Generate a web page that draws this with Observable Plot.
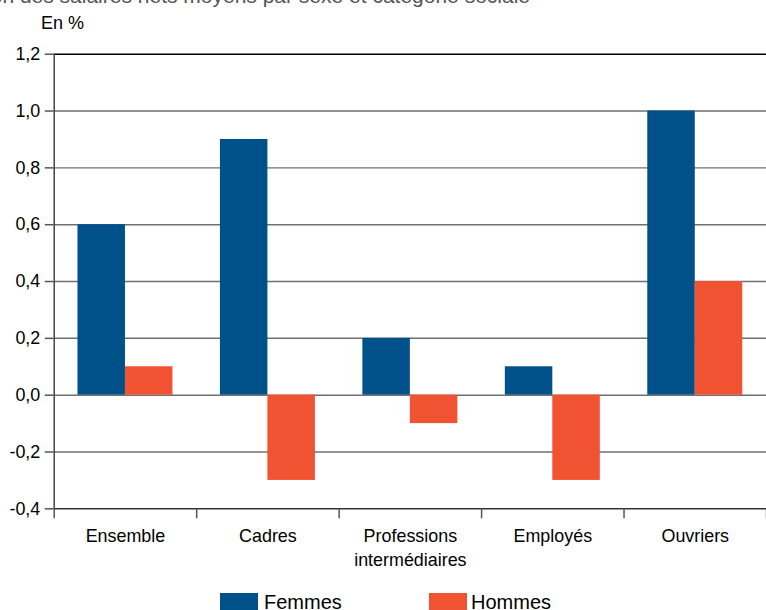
<!DOCTYPE html>
<html>
<head>
<meta charset="utf-8">
<script src="https://cdn.jsdelivr.net/npm/d3@7"></script>
<script src="https://cdn.jsdelivr.net/npm/@observablehq/plot@0.6"></script>
<style>
  html, body { margin: 0; padding: 0; background: #fff; }
  body { width: 766px; height: 610px; overflow: hidden; position: relative;
         font-family: "Liberation Sans", Arial, Helvetica, sans-serif; color: #000; }
  #title { position: absolute; top: -15px; right: 236px; white-space: nowrap; font-size: 21px; line-height: 21px; color: #555; }
  #unit { position: absolute; top: 13px; left: 41px; font-size: 18px; }
  #chart { position: absolute; top: 0; left: 0; }
  .sw { position: absolute; top: 593px; width: 38px; height: 18px; }
  .lt { position: absolute; top: 591px; font-size: 20px; white-space: nowrap; }
</style>
</head>
<body>
<div id="chart"></div>
<div id="title">Évolution des salaires nets moyens par sexe et catégorie sociale</div>
<div id="unit">En %</div>
<div id="legend"></div>
<script>
const categories = ["Ensemble", "Cadres", "Professions\nintermédiaires", "Employés", "Ouvriers"];
const femmes = [0.6, 0.9, 0.2, 0.1, 1.0];
const hommes = [0.1, -0.3, -0.1, -0.3, 0.4];
const series = ["Femmes", "Hommes"];
const colors = ["#00508a", "#f05232"];
const yTicks = [-0.4, -0.2, 0, 0.2, 0.4, 0.6, 0.8, 1.0, 1.2];

const rows = [];
categories.forEach((c, i) => {
  rows.push({i, sexe: series[0], value: femmes[i]});
  rows.push({i, sexe: series[1], value: hommes[i]});
});
const fmt = d => d3.format(".1f")(d).replace(".", ",").replace("\u2212", "-");

const chart = Plot.plot({
  width: 770,
  height: 591,
  marginTop: 54,
  marginBottom: 80,
  marginLeft: 54,
  marginRight: 0,
  style: {fontFamily: "Liberation Sans, Arial, sans-serif", fontSize: "18px", color: "#000", background: "transparent", overflow: "visible"},
  x: {domain: [0, categories.length], axis: null},
  y: {domain: [yTicks[0], yTicks[yTicks.length - 1]], axis: null},
  color: {domain: series, range: colors},
  marks: [
    Plot.ruleY(yTicks.slice(1, -1), {stroke: "#707070", strokeWidth: 1.5}),
    Plot.ruleY([yTicks[yTicks.length - 1]], {stroke: "#000", strokeWidth: 1.5}),
    Plot.rect(rows, {
      x1: d => d.i + (d.sexe === series[0] ? 1/6 : 0.5),
      x2: d => d.i + (d.sexe === series[0] ? 0.5 : 5/6),
      y1: 0,
      y2: "value",
      fill: "sexe"
    }),
    Plot.ruleY([yTicks[0]], {stroke: "#333", strokeWidth: 1.5}),
    Plot.ruleX([0], {stroke: "#444", strokeWidth: 1.5}),
    Plot.axisY({ticks: yTicks, tickFormat: fmt, tickSize: 9, tickPadding: 5, stroke: "#555", fill: "#000", strokeWidth: 1.5, fontSize: 18, label: null}),
    Plot.axisX({ticks: d3.range(0, categories.length + 1), tickSize: 10, tickFormat: () => "", stroke: "#555", strokeWidth: 1.5, label: null}),
    Plot.text(categories, {x: (d, i) => i + 0.5, frameAnchor: "bottom", lineAnchor: "top", dy: 17, lineHeight: 1.3, fontSize: 18, fill: "#000"})
  ]
});
document.getElementById("chart").appendChild(chart);

const legend = document.getElementById("legend");
const swX = [220, 429], txtX = [264, 471];
series.forEach((s, k) => {
  const sw = document.createElement("span");
  sw.className = "sw"; sw.style.left = swX[k] + "px"; sw.style.background = colors[k];
  const t = document.createElement("span");
  t.className = "lt"; t.style.left = txtX[k] + "px"; t.textContent = s;
  legend.appendChild(sw); legend.appendChild(t);
});
</script>
</body>
</html>
